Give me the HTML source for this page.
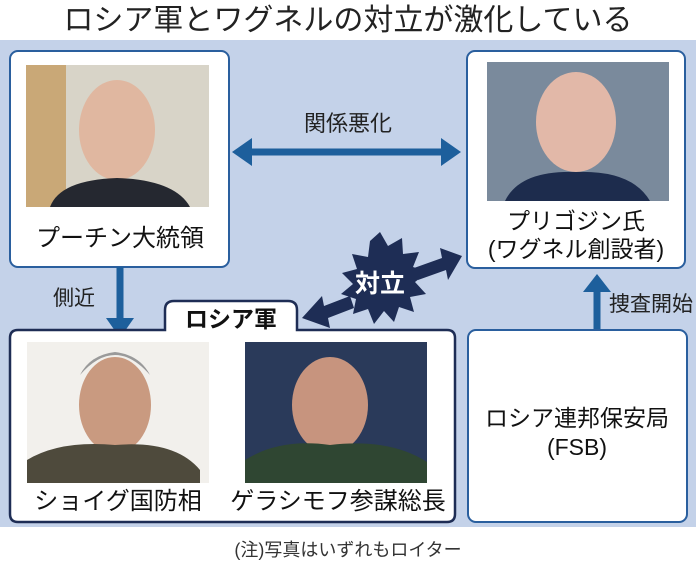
<!DOCTYPE html>
<html><head><meta charset="utf-8"><style>
body{margin:0;width:696px;height:567px;overflow:hidden;background:#fff;font-family:"Liberation Sans","Noto Sans CJK JP",sans-serif}
</style></head><body>
<svg width="696" height="567" xmlns="http://www.w3.org/2000/svg" font-family="Liberation Sans, Noto Sans CJK JP, sans-serif">
<rect width="696" height="567" fill="#fff"/>
<text x="348" y="30" font-size="30" text-anchor="middle" fill="#222">ロシア軍とワグネルの対立が激化している</text>
<rect x="0" y="40" width="696" height="487" fill="#c4d2e9"/>
<rect x="10" y="51" width="219" height="216" rx="8" fill="#fff" stroke="#2a5f9e" stroke-width="2"/>
<rect x="26" y="65" width="183" height="142" fill="#d8d4c8"/>
<rect x="26" y="65" width="40" height="142" fill="#c9a877"/>
<ellipse cx="117" cy="130" rx="38" ry="50" fill="#e0b7a0"/>
<path d="M50 207 Q60 180 117 178 Q175 180 190 207Z" fill="#252830"/>
<text x="120" y="246" font-size="24" text-anchor="middle" fill="#111">プーチン大統領</text>
<rect x="467" y="51" width="218" height="217" rx="8" fill="#fff" stroke="#2a5f9e" stroke-width="2"/>
<rect x="487" y="62" width="182" height="139" fill="#7a8a9c"/>
<ellipse cx="576" cy="122" rx="40" ry="50" fill="#e2b8a8"/>
<path d="M505 201 Q520 170 576 172 Q632 170 650 201Z" fill="#1d2c4d"/>
<text x="576" y="229" font-size="23" text-anchor="middle" fill="#111">プリゴジン氏</text>
<text x="576" y="257" font-size="23" text-anchor="middle" fill="#111">(ワグネル創設者)</text>
<text x="348" y="131" font-size="22" text-anchor="middle" fill="#222">関係悪化</text>
<line x1="252" y1="152" x2="442" y2="152" stroke="#1d5f9c" stroke-width="7"/>
<polygon points="232,152 252,138 252,166" fill="#1d5f9c"/>
<polygon points="461,152 441,138 441,166" fill="#1d5f9c"/>
<line x1="120" y1="267" x2="120" y2="320" stroke="#1d5f9c" stroke-width="7"/>
<polygon points="106,318 134,318 120,338" fill="#1d5f9c"/>
<text x="74" y="305" font-size="21" text-anchor="middle" fill="#222">側近</text>
<line x1="597" y1="290" x2="597" y2="330" stroke="#1d5f9c" stroke-width="7"/>
<polygon points="583,292 611,292 597,274" fill="#1d5f9c"/>
<text x="651" y="311" font-size="21" text-anchor="middle" fill="#222">捜査開始</text>
<path d="M18 330 H165 V310 Q165 301 174 301 H288 Q297 301 297 310 V330 H447 Q455 330 455 338 V514 Q455 522 447 522 H18 Q10 522 10 514 V338 Q10 330 18 330Z" fill="#fff" stroke="#1e2d55" stroke-width="2.5"/>
<text x="231" y="327" font-size="23" text-anchor="middle" fill="#111" font-weight="bold">ロシア軍</text>
<rect x="27" y="342" width="182" height="141" fill="#f2f0ec"/>
<ellipse cx="115" cy="405" rx="36" ry="48" fill="#c99a80"/>
<path d="M80 375 Q115 335 150 375 Q140 355 115 352 Q90 355 80 375Z" fill="#9a9a9a"/>
<path d="M27 483 L27 460 Q60 440 115 445 Q175 440 200 470 L200 483Z" fill="#4e4a3c"/>
<rect x="245" y="342" width="182" height="141" fill="#2a3a5a"/>
<ellipse cx="330" cy="405" rx="38" ry="48" fill="#c7947e"/>
<path d="M245 483 L245 460 Q280 438 330 445 Q390 438 427 462 L427 483Z" fill="#2f4632"/>
<text x="118" y="509" font-size="24" text-anchor="middle" fill="#111">ショイグ国防相</text>
<text x="338" y="509" font-size="24" text-anchor="middle" fill="#111">ゲラシモフ参謀総長</text>
<rect x="468" y="330" width="219" height="192" rx="8" fill="#fff" stroke="#2a5f9e" stroke-width="2"/>
<text x="577" y="426" font-size="23" text-anchor="middle" fill="#111">ロシア連邦保安局</text>
<text x="577" y="455" font-size="23" text-anchor="middle" fill="#111">(FSB)</text>
<polygon points="302,318 322,296 324,306 350,296 354,308 328,318 330,328" fill="#1e2d55"/>
<polygon points="462,256 440,248 442,258 414,268 418,280 446,270 448,280" fill="#1e2d55"/>
<polygon fill="#1e2d55" points="380,232 388,246 402,238 403,254 419,252 413,267 428,272 415,282 426,294 410,297 414,312 399,307 394,322 384,311 374,324 368,309 353,314 356,299 341,294 353,284 342,273 357,269 352,254 368,257 370,241"/>
<text x="380" y="292" font-size="25" font-weight="bold" text-anchor="middle" fill="#fff">対立</text>
<text x="348" y="556" font-size="18" text-anchor="middle" fill="#333">(注)写真はいずれもロイター</text>
</svg>
</body></html>
